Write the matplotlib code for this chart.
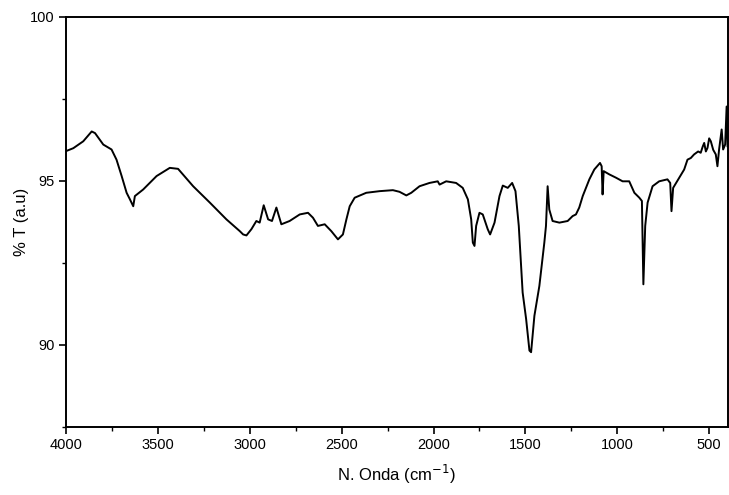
import matplotlib
matplotlib.use("Agg")
import matplotlib.pyplot as plt
from matplotlib.ticker import MultipleLocator

plt.rcParams['font.family'] = ['Liberation Sans', 'DejaVu Sans']

wavenumber = [4000, 3960, 3906, 3860, 3842, 3797, 3752, 3725, 3697, 3670, 3652, 3634,
              3625, 3580, 3507, 3435, 3390, 3308, 3217, 3127, 3054, 3036, 3018, 2991,
              2964, 2946, 2924, 2900, 2879, 2855, 2828, 2783, 2728, 2683, 2656, 2629,
              2592, 2556, 2520, 2493, 2474, 2456, 2429, 2366, 2293, 2221, 2185, 2148,
              2121, 2076, 2022, 1977, 1967, 1931, 1877, 1841, 1813, 1795, 1786, 1777,
              1768, 1750, 1732, 1705, 1692, 1668, 1641, 1623, 1596, 1572, 1554, 1536,
              1515, 1496, 1478, 1469, 1451, 1424, 1397, 1388, 1379, 1370, 1352, 1315,
              1270, 1243, 1225, 1207, 1188, 1152, 1125, 1094, 1085, 1080, 1074, 1043,
              1007, 971, 935, 907, 880, 866, 858, 848, 835, 808, 772, 727, 712, 705,
              696, 663, 636, 618, 600, 582, 560, 546, 535, 527, 518, 509, 500, 491,
              478, 464, 455, 446, 432, 424, 413, 405, 400]
transmittance = [95.91, 96.00, 96.21, 96.51, 96.46, 96.11, 95.96, 95.65, 95.15, 94.64, 94.44, 94.23,
                 94.54, 94.74, 95.15, 95.40, 95.37, 94.84, 94.34, 93.83, 93.47, 93.37, 93.34, 93.53,
                 93.78, 93.73, 94.26, 93.83, 93.78, 94.19, 93.68, 93.78, 93.98, 94.03, 93.88, 93.63,
                 93.68, 93.47, 93.22, 93.37, 93.83, 94.23, 94.49, 94.64, 94.69, 94.72, 94.67, 94.56,
                 94.64, 94.84, 94.94, 94.99, 94.89, 94.99, 94.94, 94.79, 94.44, 93.83, 93.12, 93.02,
                 93.63, 94.03, 93.98, 93.53, 93.37, 93.73, 94.54, 94.86, 94.79, 94.94, 94.69, 93.63,
                 91.60, 90.79, 89.83, 89.78, 90.89, 91.80, 93.12, 93.63, 94.84, 94.13, 93.78, 93.73,
                 93.78, 93.93, 93.98, 94.19, 94.54, 95.05, 95.35, 95.55, 95.45, 94.59, 95.30, 95.20,
                 95.10, 94.99, 94.99, 94.64, 94.49, 94.39, 91.85, 93.63, 94.34, 94.84, 94.99, 95.05, 94.94, 94.08,
                 94.79, 95.10, 95.35, 95.65, 95.70, 95.81, 95.90, 95.86, 96.05, 96.16, 95.90, 96.01, 96.30, 96.21,
                 95.95, 95.81, 95.45, 95.96, 96.57, 95.96, 96.11, 97.27, 96.06]

x_ticks = [4000, 3500, 3000, 2500, 2000, 1500, 1000, 500]
y_ticks = [90, 95, 100]

fig = plt.figure(figsize=(7.29, 4.95), dpi=100)
ax = fig.add_axes([0.0905, 0.1374, 0.9075, 0.8283])
ax.plot(wavenumber, transmittance, color='black', linewidth=1.4)

ax.set_xlim(4000, 400)
ax.set_ylim(87.5, 100)
ax.set_xticks(x_ticks)
ax.set_xticklabels([str(t) for t in x_ticks])
ax.set_yticks(y_ticks)
ax.set_yticklabels([str(t) for t in y_ticks])
ax.xaxis.set_minor_locator(MultipleLocator(250))
ax.yaxis.set_minor_locator(MultipleLocator(2.5))
ax.tick_params(axis='both', which='major', direction='out', length=5, width=1.2, labelsize=10.5, pad=3)
ax.tick_params(axis='both', which='minor', direction='out', length=3, width=1.0)
for s in ax.spines.values():
    s.set_linewidth(1.4)

ax.set_xlabel('N. Onda (cm$^{-1}$)', fontsize=12, labelpad=8)
ax.set_ylabel('% T (a.u)', fontsize=12, labelpad=1)

fig.savefig('out.png', dpi=100)
